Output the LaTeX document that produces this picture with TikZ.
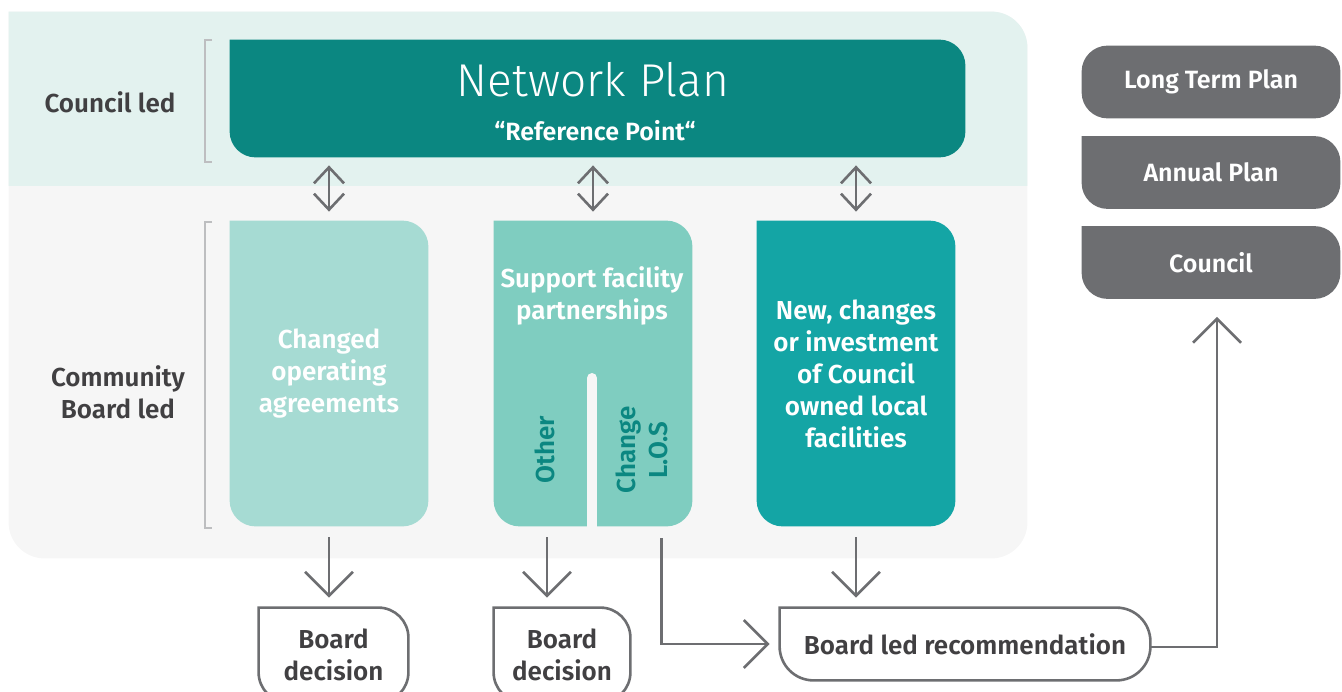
\documentclass[tikz,border=0pt]{standalone}
\usepackage{fontspec}
\setmainfont{Fira Sans}[BoldFont={Fira Sans SemiBold}]
\newfontfamily\thinfont{Fira Sans Light}
\usetikzlibrary{arrows.meta,backgrounds}
\definecolor{ink}{HTML}{414042}
\definecolor{wire}{HTML}{6D6E71}
\definecolor{brk}{HTML}{BDBEC0}
\definecolor{paneltop}{HTML}{E3F2EF}
\definecolor{panelbot}{HTML}{F6F6F6}
\definecolor{npteal}{HTML}{0B8781}
\definecolor{colA}{HTML}{A6DBD3}
\definecolor{colB}{HTML}{7FCDC0}
\definecolor{colC}{HTML}{14A5A5}
\definecolor{slate}{HTML}{6D6E71}
\newcommand\leaf[1]{(#1.north west) -- (#1.north east) -- (#1.south east) -- (#1.south west) -- (#1.north west)}
\tikzset{
  area/.style={inner sep=0pt, align=center, text=white, font=\bfseries\fontsize{13}{16}\selectfont},
  tag/.style={font=\bfseries\fontsize{13}{16}\selectfont, text=ink, align=center},
  link/.style={draw=wire, line width=1.3pt},
  tip/.style={-{Straight Barb[length=12pt,width=24pt]}},
  twotip/.style={{Straight Barb[length=8pt,width=15pt]}-{Straight Barb[length=8pt,width=15pt]}},
  bracket/.style={draw=brk, line width=1.2pt},
}

\begin{document}
\begin{tikzpicture}[x=0.5pt,y=-0.5pt]
  \useasboundingbox (0,0) rectangle (1342,691);

  \node[inner sep=0pt, minimum width=509pt, minimum height=273pt] (panel) at (518,285) {};
  \node[area, minimum width=367.5pt, minimum height=58.5pt] (np) at (597.5,98.5) {};
  \node[area, minimum width=99pt, minimum height=152.5pt] (c1) at (329,373.5) {Changed\\operating\\agreements};
  \node[area, minimum width=99pt, minimum height=152.5pt] (c2) at (593,373.5) {};
  \node[area, minimum width=99pt, minimum height=152.5pt] (c3) at (856,373.5) {New, changes\\or investment\\of Council\\owned local\\facilities};

  \node[text=white, font=\thinfont\fontsize{23}{28}\selectfont] (nptitle) at (593,80) {Network Plan};
  \node[text=white, font=\bfseries\fontsize{12.5}{15}\selectfont] (npsub) at (595,131) {“Reference Point“};
  \node[area] (c2text) at (592,296) {Support facility\\partnerships};
  \node[area, text=npteal, rotate=90] (other) at (545,450) {Other};
  \node[area, text=npteal, rotate=90] (los) at (642,450) {Change\\L.O.S};

  \node[tag] (cled) at (110,102) {Council led};
  \node[tag] (cbled) at (118,392) {Community\\Board led};
  \draw[bracket] (212,40) -- (205,40) -- (205,162) -- (212,162);
  \draw[bracket] (212,222) -- (205,222) -- (205,528) -- (212,528);

  \node[tag, inner sep=0pt, minimum width=74.5pt, minimum height=47pt] (bd1) at (333.5,655) {Board\\decision};
  \node[tag, inner sep=0pt, minimum width=68pt, minimum height=47pt] (bd2) at (562,655) {Board\\decision};
  \node[tag, inner sep=0pt, minimum width=185pt, minimum height=36pt] (brl) at (965,644) {Board led recommendation};

  \node[area, font=\bfseries\fontsize{12.5}{15}\selectfont, minimum width=129pt, minimum height=36pt] (ltp) at (1211,82) {Long Term Plan};
  \node[area, font=\bfseries\fontsize{12.5}{15}\selectfont, minimum width=129pt, minimum height=36pt] (ap) at (1211,172.5) {Annual Plan};
  \node[area, font=\bfseries\fontsize{12.5}{15}\selectfont, minimum width=129pt, minimum height=36pt] (cn) at (1211,262.5) {Council};

  \begin{pgfonlayer}{background}
    \fill[panelbot, rounded corners=18pt] \leaf{panel};
    \begin{scope}
      \clip (0,0) rectangle (1342,185);
      \fill[paneltop, rounded corners=18pt] \leaf{panel};
    \end{scope}
    \fill[npteal, rounded corners=13pt] \leaf{np};
    \fill[colA, rounded corners=13pt] \leaf{c1};
    \fill[colB, rounded corners=13pt] \leaf{c2};
    \fill[colC, rounded corners=13pt] \leaf{c3};
    \draw[panelbot, line width=5pt, line cap=round] (592,378) -- (592,532);
    \fill[slate, rounded corners=13pt] (ltp.north west) rectangle (ltp.south east);
    \fill[slate, rounded corners=13pt] \leaf{ap};
    \fill[slate, rounded corners=13pt] \leaf{cn};
  \end{pgfonlayer}

  \draw[link, line cap=rect, rounded corners=15pt] \leaf{bd1};
  \draw[link, line cap=rect, rounded corners=15pt] \leaf{bd2};
  \draw[link, line cap=rect, rounded corners=17pt] \leaf{brl};

  \draw[link, twotip] ([yshift=-4pt]np.south -| c1.north) -- ([yshift=4.5pt]c1.north);
  \draw[link, twotip] ([yshift=-4pt]np.south -| c2.north) -- ([yshift=4.5pt]c2.north);
  \draw[link, twotip] ([yshift=-4pt]np.south -| c3.north) -- ([yshift=4.5pt]c3.north);

  \draw[link, tip] ([yshift=-5.5pt]c1.south) -- ([yshift=5pt]c1.south |- bd1.north);
  \draw[link, tip] ([xshift=-23pt,yshift=-5.5pt]c2.south) -- ([xshift=-23pt,yshift=5pt]c2.south |- bd2.north);
  \draw[link, tip] ([yshift=-5.5pt]c3.south) -- ([yshift=5pt]c3.south |- brl.north);
  \draw[link, tip] ([xshift=-15.5pt,yshift=-6pt]c2.south east) |- ([xshift=-5pt]brl.west);
  \draw[link, tip] ([yshift=-1.5pt]brl.east) -| ([xshift=3pt,yshift=-9pt]cn.south);
\end{tikzpicture}
\end{document}
